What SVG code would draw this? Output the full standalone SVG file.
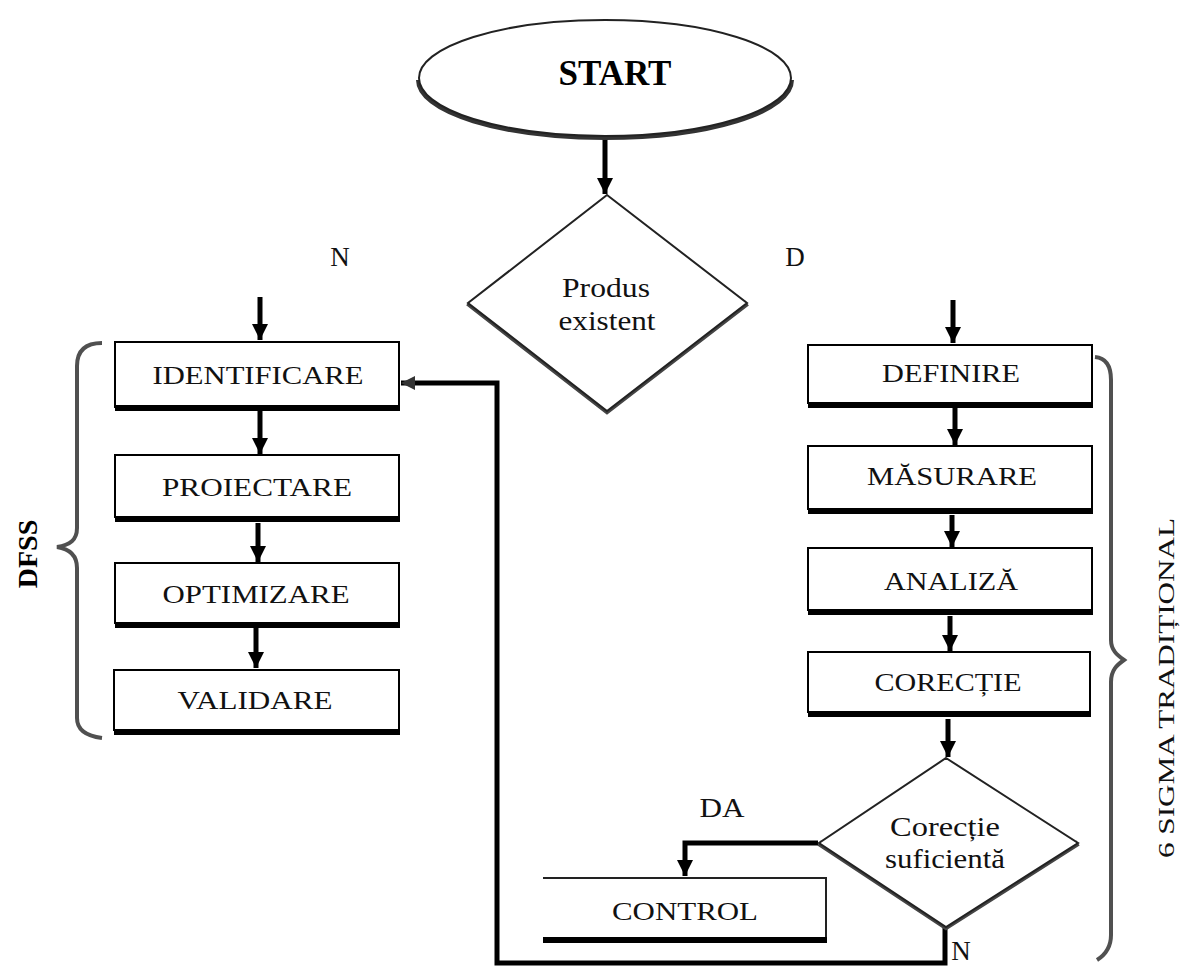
<svg xmlns="http://www.w3.org/2000/svg" width="1181" height="969" viewBox="0 0 1181 969">
  <style>
    .box { fill: #fff; stroke: #000; stroke-width: 2; }
    .shadow { stroke: #000; stroke-width: 6; fill: none; }
    .lbl { font-family: "Liberation Serif", "DejaVu Serif", serif; font-size: 26px; fill: #111; text-anchor: middle; }
    .small { font-family: "Liberation Serif", "DejaVu Serif", serif; font-size: 27px; fill: #111; text-anchor: middle; }
    .flow { stroke: #000; stroke-width: 5; fill: none; }
    .brace { stroke: #505050; stroke-width: 4; fill: none; }
  </style>
  <defs>
    <!-- arrowhead drawn along +x, rotated to follow each path -->
    <marker id="head" viewBox="0 0 10 10" refX="10" refY="5" markerUnits="userSpaceOnUse" markerWidth="18" markerHeight="16" orient="auto">
      <path d="M0,0 L10,5 L0,10 Z" fill="#000"/>
    </marker>
    <marker id="headL" viewBox="0 0 10 10" refX="10" refY="5" markerUnits="userSpaceOnUse" markerWidth="16" markerHeight="14" orient="auto">
      <path d="M0,0 L10,5 L0,10 Z" fill="#333"/>
    </marker>
  </defs>

  <rect width="1181" height="969" fill="#fff"/>

  <!-- connectors -->
  <g id="connectors">
    <path class="flow" d="M605,138 V194" marker-end="url(#head)"/>
    <path class="flow" d="M260,297 V340" marker-end="url(#head)"/>
    <path class="flow" d="M260,411 V454" marker-end="url(#head)"/>
    <path class="flow" d="M258,523 V562" marker-end="url(#head)"/>
    <path class="flow" d="M256,628 V668" marker-end="url(#head)"/>
    <path class="flow" d="M953,300 V343" marker-end="url(#head)"/>
    <path class="flow" d="M955,408 V445" marker-end="url(#head)"/>
    <path class="flow" d="M952,515 V547" marker-end="url(#head)"/>
    <path class="flow" d="M950,616 V651" marker-end="url(#head)"/>
    <path class="flow" d="M948,719 V757" marker-end="url(#head)"/>
    <path class="flow" d="M818,843 H685 V876" marker-end="url(#head)"/>
    <path class="flow" d="M945,927 V963 H497 V383 H401" marker-end="url(#headL)"/>
  </g>

  <!-- start terminal -->
  <g id="start">
    <path d="M419,80 A186,57 0 0 0 791,80" fill="none" stroke="#333" stroke-width="6"/>
    <ellipse cx="605" cy="78" rx="186" ry="58" fill="#fff" stroke="#222" stroke-width="2"/>
    <text x="615" y="85" font-family="Liberation Serif, serif" font-size="35" font-weight="bold" text-anchor="middle" fill="#000">START</text>
  </g>

  <!-- decision: existing product -->
  <g id="produs">
    <path d="M468,303 L607,411 L747,303" fill="none" stroke="#444" stroke-width="6"/>
    <polygon points="607,195 747,303 607,411 468,303" fill="#fff" stroke="#222" stroke-width="2"/>
    <text class="small" x="606" y="297" textLength="88" lengthAdjust="spacingAndGlyphs">Produs</text>
    <text class="small" x="607" y="330" textLength="97" lengthAdjust="spacingAndGlyphs">existent</text>
  </g>

  <text class="small" x="340" y="266">N</text>
  <text class="small" x="795" y="266">D</text>

  <!-- DFSS branch -->
  <g id="identificare">
    <rect class="box" x="115" y="342" width="284" height="65"/>
    <line class="shadow" x1="115" y1="408" x2="400" y2="408"/>
    <text class="lbl" x="258" y="384" textLength="211" lengthAdjust="spacingAndGlyphs">IDENTIFICARE</text>
  </g>
  <g id="proiectare">
    <rect class="box" x="115" y="455" width="284" height="62"/>
    <line class="shadow" x1="115" y1="519" x2="400" y2="519"/>
    <text class="lbl" x="257" y="496" textLength="190" lengthAdjust="spacingAndGlyphs">PROIECTARE</text>
  </g>
  <g id="optimizare">
    <rect class="box" x="115" y="563" width="284" height="60"/>
    <line class="shadow" x1="115" y1="625" x2="400" y2="625"/>
    <text class="lbl" x="256" y="603" textLength="187" lengthAdjust="spacingAndGlyphs">OPTIMIZARE</text>
  </g>
  <g id="validare">
    <rect class="box" x="114" y="670" width="285" height="60"/>
    <line class="shadow" x1="114" y1="732" x2="400" y2="732"/>
    <text class="lbl" x="255" y="709" textLength="155" lengthAdjust="spacingAndGlyphs">VALIDARE</text>
  </g>

  <g id="dfss-brace">
    <path class="brace" d="M102,343 C86,343 77,350 77,366 L77,528 C77,540 70,545 57,547 C70,549 77,556 77,568 L77,718 C77,730 86,736 102,738"/>
    <text x="0" y="0" transform="translate(37,554) rotate(-90)" font-family="Liberation Serif, serif" font-size="28" font-weight="bold" text-anchor="middle" fill="#000">DFSS</text>
  </g>

  <!-- traditional six sigma branch -->
  <g id="definire">
    <rect class="box" x="808" y="345" width="284" height="58"/>
    <line class="shadow" x1="808" y1="405" x2="1093" y2="405"/>
    <text class="lbl" x="951" y="382" textLength="138" lengthAdjust="spacingAndGlyphs">DEFINIRE</text>
  </g>
  <g id="masurare">
    <rect class="box" x="808" y="446" width="284" height="63"/>
    <line class="shadow" x1="808" y1="511" x2="1093" y2="511"/>
    <text class="lbl" x="952" y="485" textLength="170" lengthAdjust="spacingAndGlyphs">MĂSURARE</text>
  </g>
  <g id="analiza">
    <rect class="box" x="808" y="548" width="284" height="62"/>
    <line class="shadow" x1="808" y1="612" x2="1093" y2="612"/>
    <text class="lbl" x="951" y="590" textLength="134" lengthAdjust="spacingAndGlyphs">ANALIZĂ</text>
  </g>
  <g id="corectie">
    <rect class="box" x="808" y="652" width="282" height="60"/>
    <line class="shadow" x1="808" y1="714" x2="1091" y2="714"/>
    <text class="lbl" x="948" y="691" textLength="147" lengthAdjust="spacingAndGlyphs">CORECȚIE</text>
  </g>

  <!-- decision: sufficient correction -->
  <g id="suficienta">
    <path d="M819,843 L946,927 L1078,843" fill="none" stroke="#444" stroke-width="6"/>
    <polygon points="946,758 1078,843 946,927 819,843" fill="#fff" stroke="#222" stroke-width="2"/>
    <text class="small" x="945" y="836" textLength="110" lengthAdjust="spacingAndGlyphs">Corecție</text>
    <text class="small" x="945" y="868" textLength="120" lengthAdjust="spacingAndGlyphs">suficientă</text>
  </g>

  <text class="small" x="722" y="817" textLength="45" lengthAdjust="spacingAndGlyphs">DA</text>
  <text class="small" x="961" y="960">N</text>

  <g id="control">
    <path d="M543,878 H826 V938" fill="none" stroke="#222" stroke-width="2"/>
    <line class="shadow" x1="543" y1="940" x2="827" y2="940"/>
    <text class="lbl" x="685" y="920" textLength="146" lengthAdjust="spacingAndGlyphs">CONTROL</text>
  </g>

  <g id="sigma-brace">
    <path class="brace" d="M1095,357 C1106,358 1111,366 1111,380 L1111,640 C1111,650 1117,655 1124,660 C1117,665 1111,670 1111,682 L1111,935 C1111,948 1105,955 1097,960"/>
    <text x="0" y="0" transform="translate(1174,688) rotate(-90)" font-family="Liberation Serif, serif" font-size="24" text-anchor="middle" fill="#111" textLength="340" lengthAdjust="spacingAndGlyphs">6 SIGMA TRADIȚIONAL</text>
  </g>
</svg>
